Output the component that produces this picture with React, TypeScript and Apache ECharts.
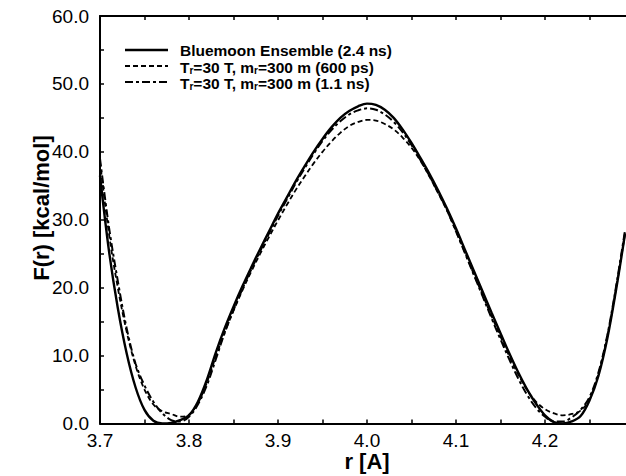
import React, { useEffect, useRef } from "react";
import * as echarts from "echarts";

const rValues = [
  3.70, 3.71, 3.72, 3.73, 3.74, 3.75, 3.76, 3.77, 3.78, 3.79,
  3.80, 3.81, 3.82, 3.83, 3.84, 3.85, 3.86, 3.87, 3.88, 3.89,
  3.90, 3.91, 3.92, 3.93, 3.94, 3.95, 3.96, 3.97, 3.98, 3.99,
  4.00, 4.01, 4.02, 4.03, 4.04, 4.05, 4.06, 4.07, 4.08, 4.09,
  4.10, 4.11, 4.12, 4.13, 4.14, 4.15, 4.16, 4.17, 4.18, 4.19,
  4.20, 4.21, 4.22, 4.23, 4.24, 4.25, 4.26, 4.27, 4.28, 4.29,
];

const bluemoon = [
  36.5, 25.5, 17.0, 10.3, 5.3, 2.0, 0.4, 0.0, 0.1, 0.5,
  1.2, 3.2, 6.4, 10.4, 14.0, 17.2, 20.2, 23.0, 25.7, 28.3,
  30.9, 33.3, 35.7, 37.9, 40.0, 41.9, 43.6, 45.0, 46.0, 46.7,
  47.1, 46.9, 46.2, 45.0, 43.3, 41.3, 39.1, 36.8, 34.3, 31.6,
  28.7, 25.6, 22.5, 19.4, 16.3, 13.3, 10.3, 7.5, 5.0, 2.9,
  1.2, 0.2, 0.0, 0.3, 1.1, 3.4, 7.0, 12.5, 19.8, 28.0,
];

const run600ps = [
  38.5, 28.0, 20.0, 13.5, 8.5, 5.0, 2.8, 1.8, 1.4, 1.0,
  1.3, 3.0, 6.0, 9.8, 13.4, 16.6, 19.6, 22.4, 25.0, 27.5,
  29.9, 32.2, 34.4, 36.4, 38.3, 40.0, 41.5, 42.8, 43.8, 44.4,
  44.7, 44.6, 44.1, 43.3, 42.1, 40.6, 38.7, 36.4, 33.9, 31.3,
  28.3, 25.2, 22.0, 18.9, 15.8, 12.8, 9.9, 7.2, 4.9, 3.2,
  2.1, 1.5, 1.2, 1.4, 1.9, 3.6, 7.3, 12.8, 20.0, 28.0,
];

const run1_1ns = [
  39.0, 29.0, 21.0, 14.0, 8.8, 5.6, 3.2, 1.5, 0.5, 0.3,
  1.0, 2.8, 5.6, 9.4, 13.3, 16.7, 19.8, 22.7, 25.4, 28.0,
  30.6, 33.0, 35.4, 37.6, 39.7, 41.6, 43.2, 44.5, 45.5, 46.1,
  46.4, 46.2, 45.5, 44.4, 42.9, 41.0, 38.8, 36.5, 34.0, 31.4,
  28.3, 25.1, 21.9, 18.7, 15.5, 12.4, 9.4, 6.6, 4.2, 2.3,
  1.0, 0.3, 0.3, 0.9, 2.0, 3.9, 7.5, 13.0, 20.3, 28.5,
];

const seriesNames = [
  "Bluemoon Ensemble (2.4 ns)",
  "Tr=30 T, mr=300 m (600 ps)",
  "Tr=30 T, mr=300 m (1.1 ns)",
];

const xTitle = "r [A]";
const yTitle = "F(r) [kcal/mol]";

function pairs(ys: number[]) {
  return rValues.map((r, i) => [r, ys[i]]);
}

const FONT = "'Liberation Sans', Arial, Helvetica, sans-serif";

export default function App() {
  const ref = useRef<HTMLDivElement>(null);

  useEffect(() => {
    if (!ref.current) return;
    const chart = echarts.init(ref.current, null, { renderer: "svg" });

    const gridLeft = 100;
    const gridTop = 16;
    const gridWidth = 534;
    const gridHeight = 407.5;

    const legendRows = [
      { y: 50, lineType: "solid" as any, width: 2.4 },
      { y: 66, lineType: [5, 3] as any, width: 1.8 },
      { y: 82, lineType: [8, 3, 3, 3] as any, width: 2.0 },
    ];

    const legendTexts = [
      "{b|Bluemoon Ensemble (2.4 ns)}",
      "{b|T}{s|r}{b|=30 T, m}{s|r}{b|=300 m (600 ps)}",
      "{b|T}{s|r}{b|=30 T, m}{s|r}{b|=300 m (1.1 ns)}",
    ];

    const rich = {
      b: { fontFamily: FONT, fontSize: 15.5, fontWeight: "bold", color: "#000", lineHeight: 16 },
      s: { fontFamily: FONT, fontSize: 10, fontWeight: "bold", color: "#000", lineHeight: 9, verticalAlign: "bottom" },
    };

    const graphics: any[] = [];
    legendRows.forEach((row, i) => {
      graphics.push({
        type: "line",
        shape: { x1: 125, y1: row.y, x2: 168, y2: row.y },
        style: { stroke: "#000", lineWidth: row.width, lineDash: row.lineType === "solid" ? null : row.lineType },
      });
      graphics.push({
        type: "text",
        x: 180,
        y: row.y + (i === 0 ? 0 : 1),
        style: {
          text: legendTexts[i],
          rich,
          verticalAlign: "middle",
          align: "left",
        },
      });
    });

    graphics.push({
      type: "text",
      x: 367,
      y: 461,
      style: {
        text: xTitle,
        fontFamily: FONT,
        fontSize: 22,
        fontWeight: "bold",
        fill: "#000",
        align: "center",
        verticalAlign: "middle",
      },
    });
    graphics.push({
      type: "text",
      x: 41,
      y: 208,
      rotation: Math.PI / 2,
      style: {
        text: yTitle,
        fontFamily: FONT,
        fontSize: 22,
        fontWeight: "bold",
        fill: "#000",
        align: "center",
        verticalAlign: "middle",
      },
    });

    const tickLabel = { fontFamily: FONT, fontSize: 19, color: "#000" };

    chart.setOption({
      animation: false,
      backgroundColor: "#fff",
      grid: {
        left: gridLeft,
        top: gridTop,
        width: gridWidth,
        height: gridHeight,
        containLabel: false,
        outerBoundsMode: "none",
      },
      xAxis: [
        {
          type: "value",
          min: 3.7,
          max: 4.3,
          interval: 0.1,
          position: "bottom",
          axisLine: { show: true, onZero: false, lineStyle: { color: "#000", width: 2 } },
          axisTick: { show: true, inside: true, length: 4, lineStyle: { color: "#000", width: 1.5 } },
          minorTick: { show: true, splitNumber: 2, length: 4, lineStyle: { color: "#000", width: 1.5 } },
          splitLine: { show: false },
          axisLabel: {
            ...tickLabel,
            margin: 7,
            showMaxLabel: false,
            formatter: (v: number) => (v > 4.25 ? "" : v.toFixed(1)),
          },
        },
        {
          type: "value",
          min: 3.7,
          max: 4.3,
          interval: 0.1,
          position: "top",
          axisLine: { show: true, onZero: false, lineStyle: { color: "#000", width: 2 } },
          axisTick: { show: true, inside: true, length: 4, lineStyle: { color: "#000", width: 1.5 } },
          minorTick: { show: true, splitNumber: 2, length: 4, lineStyle: { color: "#000", width: 1.5 } },
          splitLine: { show: false },
          axisLabel: { show: false },
        },
      ],
      yAxis: {
        type: "value",
        min: 0,
        max: 60,
        interval: 10,
        axisLine: { show: true, onZero: false, lineStyle: { color: "#000", width: 2 } },
        axisTick: { show: true, inside: true, length: 4, lineStyle: { color: "#000", width: 1.5 } },
        minorTick: { show: true, splitNumber: 2, length: 4, lineStyle: { color: "#000", width: 1.5 } },
        splitLine: { show: false },
        axisLabel: {
          ...tickLabel,
          margin: 11,
          formatter: (v: number) => v.toFixed(1),
        },
      },
      series: [
        {
          name: seriesNames[0],
          type: "line",
          data: pairs(bluemoon),
          showSymbol: false,
          symbol: "none",
          smooth: 0.35,
          lineStyle: { color: "#000", width: 2.4, type: "solid" },
          z: 3,
        },
        {
          name: seriesNames[1],
          type: "line",
          data: pairs(run600ps),
          showSymbol: false,
          symbol: "none",
          smooth: 0.35,
          lineStyle: { color: "#000", width: 1.8, type: [5, 3] },
          z: 2,
        },
        {
          name: seriesNames[2],
          type: "line",
          data: pairs(run1_1ns),
          showSymbol: false,
          symbol: "none",
          smooth: 0.35,
          lineStyle: { color: "#000", width: 2.0, type: [8, 3, 3, 3] },
          z: 2,
        },
      ],
      graphic: graphics,
    });

    return () => {
      chart.dispose();
    };
  }, []);

  return (
    <div
      ref={ref}
      style={{ position: "fixed", left: 0, top: 0, width: 626, height: 476, background: "#fff" }}
    />
  );
}
